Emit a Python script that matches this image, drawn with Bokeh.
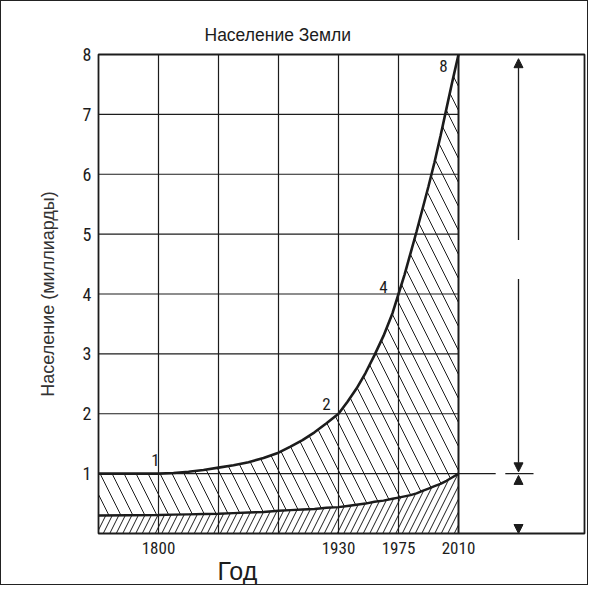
from bokeh.plotting import figure
from bokeh.models import FixedTicker, Title, Arrow, NormalHead, Range1d
from bokeh.core.properties import value
from bokeh.embed import file_html
from bokeh.resources import INLINE

# ---- data ----
title_text = "Население Земли"
x_label = "Год"
y_label = "Население (миллиарды)"

grid_x = [1, 2, 3, 4, 5]          # vertical grid positions (equal spacing)
edge_x = 6                         # 2010 boundary line
grid_y = [1, 2, 3, 4, 5, 6, 7]
y_ticks = [1, 2, 3, 4, 5, 6, 7, 8]
x_ticks = [1, 4, 5, 6]
x_tick_labels = ["1800", "1930", "1975", "2010"]

# curve positions (grid units) and values (billions)
cx = [0, 0.5, 1.0, 1.25, 1.5, 1.75, 2.0, 2.25, 2.5, 2.75, 3.0, 3.2, 3.4, 3.6, 3.8,
      4.0, 4.15, 4.3, 4.45, 4.6, 4.75, 4.9, 5.0, 5.1, 5.2, 5.3, 5.4, 5.5, 5.6, 5.7,
      5.8, 5.9, 6.0]
upper = [1.0, 1.0, 1.0, 1.01, 1.03, 1.06, 1.10, 1.14, 1.19, 1.26, 1.35, 1.45, 1.56,
         1.69, 1.84, 2.0, 2.2, 2.42, 2.68, 2.98, 3.3, 3.68, 4.0, 4.32, 4.68, 5.04,
         5.42, 5.8, 6.2, 6.64, 7.1, 7.56, 8.0]
lower = [0.30, 0.305, 0.31, 0.315, 0.32, 0.325, 0.33, 0.34, 0.35, 0.36, 0.38, 0.39,
         0.40, 0.41, 0.43, 0.44, 0.46, 0.48, 0.50, 0.53, 0.55, 0.58, 0.60, 0.62, 0.64,
         0.67, 0.71, 0.75, 0.79, 0.83, 0.88, 0.94, 1.0]

# point labels on the curve
lab_x = [0.95, 3.8, 4.75, 5.75]
lab_y = [1.22, 2.17, 4.12, 7.8]
lab_t = ["1", "2", "4", "8"]

# dimension marks on the right
dim_x = 7.0
ext_x0 = [6.0, 6.78]
ext_x1 = [6.62, 7.25]
ext_y = 1.0
arrows_visible = [(4.9, 7.93), (4.25, 1.03)]
arrows_heads_only = [(0.78, 0.97), (0.2, 0.0)]

INK = "#1c1c1c"
NARROW = "'Liberation Sans Narrow', 'Roboto Condensed', 'Liberation Sans', sans-serif"

p = figure(width=588, height=585, x_range=Range1d(0, 8.1), y_range=Range1d(0, 8),
           output_backend="svg", toolbar_location=None,
           min_border_left=97, min_border_top=53, min_border_right=5, min_border_bottom=47,
           styles={"border": "1.5px solid #222"})
p.grid.visible = False
p.outline_line_color = INK
p.outline_line_width = 1.8

p.title.text = title_text
p.title.align = "left"
p.title.offset = 106
p.title.text_font = "Liberation Sans"
p.title.text_font_style = "normal"
p.title.text_font_size = "17.5px"
p.title.text_color = INK
p.title.standoff = 19

p.yaxis.ticker = FixedTicker(ticks=y_ticks)
p.xaxis.ticker = FixedTicker(ticks=x_ticks)
p.xaxis.major_label_overrides = {t: s for t, s in zip(x_ticks, x_tick_labels)}
for ax in (p.xaxis, p.yaxis):
    ax.axis_line_color = None
    ax.major_tick_line_color = None
    ax.minor_tick_line_color = None
    ax.major_label_text_color = INK
    ax.major_label_text_font = NARROW
p.yaxis.major_label_text_font_size = "18px"
p.yaxis.major_label_standoff = 1
p.xaxis.major_label_text_font_size = "17px"
p.xaxis.major_label_standoff = 2
p.yaxis.axis_label = y_label
p.yaxis.axis_label_text_font = "Liberation Sans"
p.yaxis.axis_label_text_font_style = "normal"
p.yaxis.axis_label_text_font_size = "18px"
p.yaxis.axis_label_text_color = "#333333"
p.yaxis.axis_label_standoff = 22

p.add_layout(Title(text=x_label, align="left", offset=119, vertical_align="top",
                   text_font="Liberation Sans", text_font_style="normal",
                   text_font_size="25px", text_color=INK, standoff=0), "below")

# hatched regions
p.varea(x=cx, y1=0, y2=lower, fill_alpha=0, hatch_pattern="/", hatch_scale=13,
        hatch_weight=1, hatch_color=INK)
p.varea(x=cx, y1=lower, y2=upper, fill_alpha=0, hatch_pattern="\\", hatch_scale=24,
        hatch_weight=1, hatch_color=INK)

# grid
p.segment(x0=grid_x, y0=0, x1=grid_x, y1=8, line_color=INK, line_width=1.2)
p.segment(x0=0, y0=grid_y, x1=edge_x, y1=grid_y, line_color=INK, line_width=1.2)
p.segment(x0=[edge_x], y0=0, x1=[edge_x], y1=8, line_color=INK, line_width=2)

# curves
p.line(cx, upper, line_color=INK, line_width=2.6)
p.line(cx, lower, line_color=INK, line_width=2.4)

# curve labels
p.text(x=lab_x, y=lab_y, text=lab_t, text_font=value(NARROW), text_font_size="17px",
       text_color=INK, text_align="center", text_baseline="middle")

# dimension lines
p.segment(x0=ext_x0, y0=ext_y, x1=ext_x1, y1=ext_y, line_color=INK, line_width=1.3)
for y0, y1 in arrows_visible:
    p.add_layout(Arrow(end=NormalHead(size=9, fill_color=INK, line_color=INK),
                       x_start=dim_x, y_start=y0, x_end=dim_x, y_end=y1,
                       line_color=INK, line_width=1.3))
for y0, y1 in arrows_heads_only:
    p.add_layout(Arrow(end=NormalHead(size=9, fill_color=INK, line_color=INK),
                       x_start=dim_x, y_start=y0, x_end=dim_x, y_end=y1,
                       line_alpha=0))

open("out.html", "w").write(file_html(p, INLINE))
